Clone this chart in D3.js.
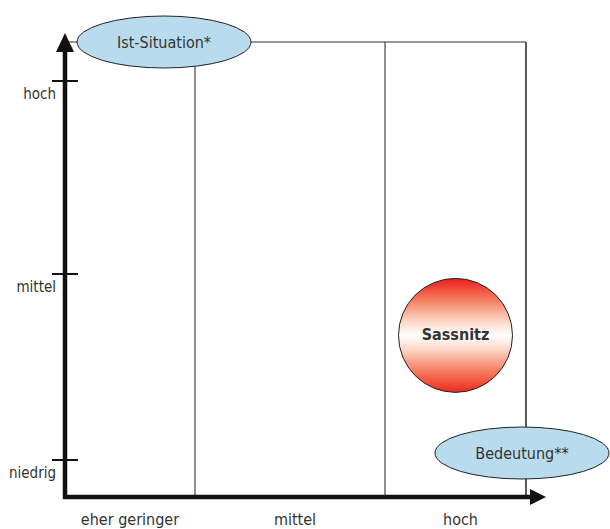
<!DOCTYPE html>
<html>
<head>
<meta charset="utf-8">
<script src="https://cdn.jsdelivr.net/npm/d3@7"></script>
<style>
  html, body { margin: 0; padding: 0; background: #fff; }
  svg text { font-family: "DejaVu Sans Condensed", "Liberation Sans", sans-serif; fill: #333; }
</style>
</head>
<body>
<svg id="chart" width="610" height="529"></svg>
<script>
// Categories along the horizontal axis (Bedeutung) and the vertical axis (Ist-Situation)
const bedeutungLevels = ["eher geringer", "mittel", "hoch"];
const situationLevels = ["niedrig", "mittel", "hoch"];

// Positioned items: bedeutung in band units (0..3), situation in level units (0..2)
const items = ["Sassnitz"];
const itemBedeutung = [2.5];
const itemSituation = [0.67];

// Axis titles
const axisTitles = ["Ist-Situation*", "Bedeutung**"];

const svg = d3.select("#chart");

// Piecewise x scale: band boundaries in band units
const x = d3.scaleLinear().domain([0, 1, 2, 3]).range([65, 195, 385, 526]);
// Piecewise vertical scale for situation levels
const y = d3.scaleLinear().domain([0, 1, 2]).range([460, 274, 81]);

const frameTop = 42, frameBottom = 497;

// gradient for the location marker
const defs = svg.append("defs");
const grad = defs.append("linearGradient").attr("id", "redball")
  .attr("x1", 0).attr("y1", 0).attr("x2", 0).attr("y2", 1);
[[0, "#ee1c1c"], [0.18, "#f4795c"], [0.38, "#fcd8c8"], [0.5, "#ffffff"],
 [0.62, "#fcd8c8"], [0.82, "#f4795c"], [1, "#ee2a1c"]].forEach(([o, c]) =>
  grad.append("stop").attr("offset", o).attr("stop-color", c));

// thin frame: top line and band separators
svg.append("line").attr("x1", x(0)).attr("x2", x(3)).attr("y1", frameTop).attr("y2", frameTop)
  .attr("stroke", "#333").attr("stroke-width", 1.2);
svg.selectAll("line.sep").data([1, 2, 3]).join("line").attr("class", "sep")
  .attr("x1", d => x(d)).attr("x2", d => x(d))
  .attr("y1", frameTop).attr("y2", frameBottom)
  .attr("stroke", "#333").attr("stroke-width", d => d === 3 ? 1.6 : 1.1);

// heavy axes with arrowheads
const axisG = svg.append("g");
axisG.append("line").attr("x1", x(0)).attr("x2", x(0)).attr("y1", frameBottom + 2).attr("y2", 48)
  .attr("stroke", "#111").attr("stroke-width", 4.5);
axisG.append("path").attr("d", `M${x(0) - 9},52 L${x(0)},33 L${x(0) + 9},52 Z`).attr("fill", "#111");
axisG.append("line").attr("x1", x(0) - 2).attr("x2", 532).attr("y1", frameBottom).attr("y2", frameBottom)
  .attr("stroke", "#111").attr("stroke-width", 4.5);
axisG.append("path").attr("d", `M530,${frameBottom - 8} L546,${frameBottom} L530,${frameBottom + 8} Z`).attr("fill", "#111");

// y ticks and labels
const yTicks = svg.selectAll("g.ytick").data(situationLevels).join("g").attr("class", "ytick")
  .attr("transform", (d, i) => `translate(0,${y(i)})`);
yTicks.append("line").attr("x1", x(0) - 13).attr("x2", x(0) + 13)
  .attr("stroke", "#111").attr("stroke-width", 2);
yTicks.append("text").attr("x", x(0) - 9).attr("y", 18).attr("text-anchor", "end")
  .attr("font-size", 15).text(d => d);

// x category labels
svg.selectAll("text.xlab").data(bedeutungLevels).join("text").attr("class", "xlab")
  .attr("x", (d, i) => x(i + 0.5) + (i === 0 ? 0 : 5))
  .attr("y", 525).attr("text-anchor", "middle").attr("font-size", 16)
  .text(d => d);

// axis title ellipses
const titles = [
  { t: axisTitles[0], cx: 164, cy: 42 },
  { t: axisTitles[1], cx: 522, cy: 453 }
];
const tg = svg.selectAll("g.title").data(titles).join("g").attr("class", "title")
  .attr("transform", d => `translate(${d.cx},${d.cy})`);
tg.append("ellipse").attr("rx", 87).attr("ry", 26)
  .attr("fill", "#b8dced").attr("stroke", "#222").attr("stroke-width", 1);
tg.append("text").attr("y", 6).attr("text-anchor", "middle").attr("font-size", 16)
  .text(d => d.t);

// location markers
const mk = svg.selectAll("g.item").data(items).join("g").attr("class", "item")
  .attr("transform", (d, i) => `translate(${x(itemBedeutung[i])},${y(itemSituation[i])})`);
mk.append("circle").attr("r", 57).attr("fill", "url(#redball)")
  .attr("stroke", "#222").attr("stroke-width", 1);
mk.append("text").attr("y", 5).attr("text-anchor", "middle")
  .attr("font-family", "'DejaVu Sans Condensed', sans-serif").attr("font-weight", "bold")
  .attr("font-size", 16).text(d => d);
</script>
</body>
</html>
